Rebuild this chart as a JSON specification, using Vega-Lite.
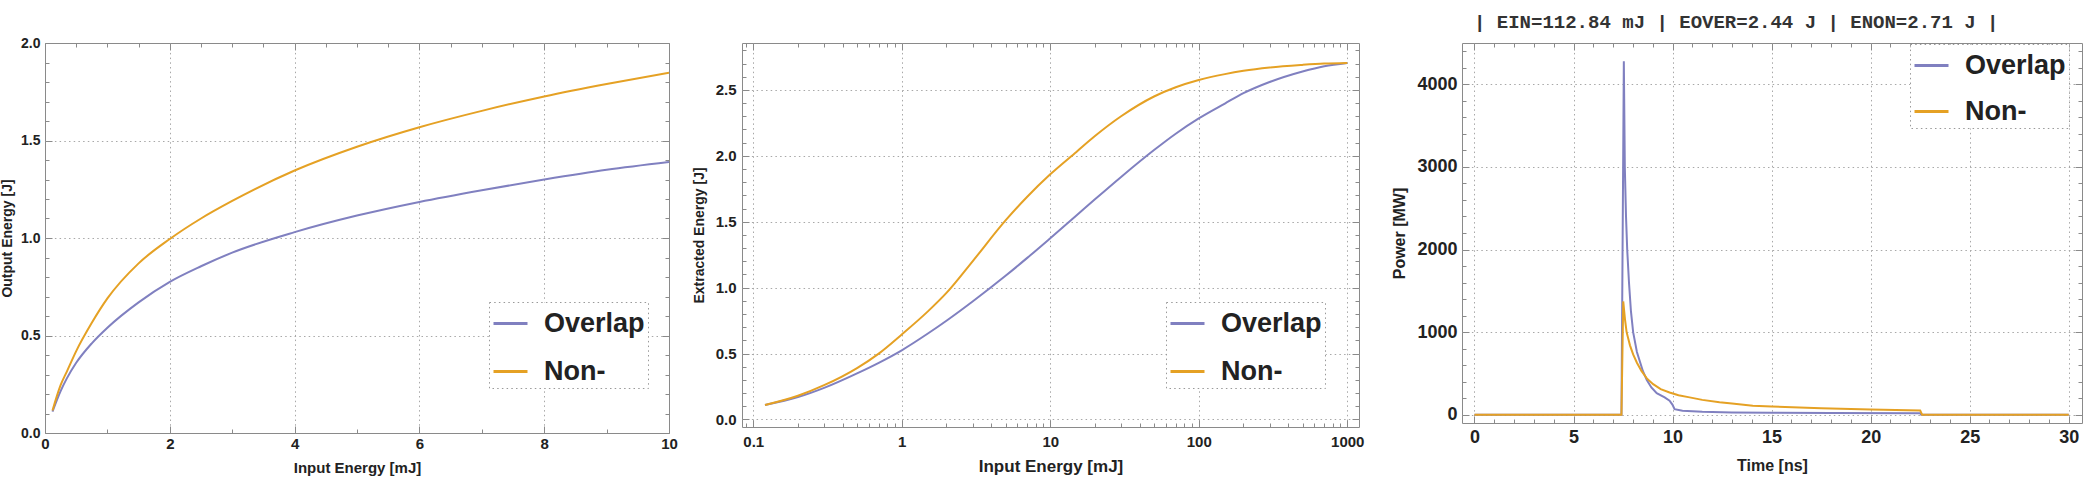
{
  "$schema": "https://vega.github.io/schema/vega-lite/v6.json",
  "padding": {"left": 0, "top": 12, "right": 0, "bottom": 0},
  "background": "white",
  "spacing": 26,
  "resolve": {"scale": {"color": "independent"}, "legend": {"color": "independent"}},
  "config": {
    "view": {"stroke": "#8a8a8a", "strokeWidth": 1},
    "legend": {"strokeDash": [1.5, 3.2], "strokeWidth": 1}
  },
  "hconcat": [
    {
      "bounds": "flush",
      "spacing": 73,
      "resolve": {"scale": {"color": "independent"}, "legend": {"color": "independent"}},
      "hconcat": [
        {
          "width": 624,
          "height": 390,
          "data": {"values": [
            {"e": 0.12, "s": "Overlap", "o": 0.11}, {"e": 0.25, "s": "Overlap", "o": 0.215}, {"e": 0.35, "s": "Overlap", "o": 0.28},
            {"e": 0.5, "s": "Overlap", "o": 0.36}, {"e": 0.75, "s": "Overlap", "o": 0.46}, {"e": 1, "s": "Overlap", "o": 0.54},
            {"e": 1.5, "s": "Overlap", "o": 0.67}, {"e": 2, "s": "Overlap", "o": 0.775}, {"e": 2.5, "s": "Overlap", "o": 0.855},
            {"e": 3, "s": "Overlap", "o": 0.925}, {"e": 4, "s": "Overlap", "o": 1.03}, {"e": 5, "s": "Overlap", "o": 1.115},
            {"e": 6, "s": "Overlap", "o": 1.185}, {"e": 7, "s": "Overlap", "o": 1.245}, {"e": 8, "s": "Overlap", "o": 1.3},
            {"e": 9, "s": "Overlap", "o": 1.35}, {"e": 10, "s": "Overlap", "o": 1.39},
            {"e": 0.12, "s": "Non-", "o": 0.115}, {"e": 0.25, "s": "Non-", "o": 0.245}, {"e": 0.35, "s": "Non-", "o": 0.315},
            {"e": 0.5, "s": "Non-", "o": 0.42}, {"e": 0.75, "s": "Non-", "o": 0.565}, {"e": 1, "s": "Non-", "o": 0.69},
            {"e": 1.5, "s": "Non-", "o": 0.87}, {"e": 2, "s": "Non-", "o": 0.995}, {"e": 2.5, "s": "Non-", "o": 1.1},
            {"e": 3, "s": "Non-", "o": 1.19}, {"e": 4, "s": "Non-", "o": 1.346}, {"e": 5, "s": "Non-", "o": 1.468},
            {"e": 6, "s": "Non-", "o": 1.568}, {"e": 7, "s": "Non-", "o": 1.652}, {"e": 8, "s": "Non-", "o": 1.726},
            {"e": 9, "s": "Non-", "o": 1.79}, {"e": 10, "s": "Non-", "o": 1.848}
          ]},
          "resolve": {"axis": {"x": "independent", "y": "independent"}},
          "layer": [
            {
              "mark": {"type": "line", "strokeWidth": 2, "clip": true, "interpolate": "monotone"},
              "encoding": {
                "x": {"field": "e", "type": "quantitative",
                  "scale": {"domain": [0, 10], "nice": false, "zero": false},
                  "axis": {"orient": "bottom", "values": [0,0.5,1,1.5,2,2.5,3,3.5,4,4.5,5,5.5,6,6.5,7,7.5,8,8.5,9,9.5,10],
                    "domain": false, "grid": true, "gridColor": "#a8a8a8", "gridDash": [1.5, 3.2],
                    "gridOpacity": {"condition": {"test": "datum.value % 2 == 0 && datum.value > 0 && datum.value < 10", "value": 1}, "value": 0},
                    "tickColor": "#8a8a8a",
                    "tickSize": {"condition": {"test": "datum.value % 2 == 0", "value": -7}, "value": -4},
                    "labelExpr": "datum.value % 2 == 0 ? datum.label : ''", "format": "d",
                    "labelFlush": false, "labelOverlap": false, "labelBound": false, "labelPadding": 10,
                    "labelFont": "Liberation Sans Narrow, Liberation Sans, sans-serif", "labelFontSize": 15, "labelFontWeight": "bold", "labelColor": "#222",
                    "title": "Input Energy [mJ]", "titleFont": "Liberation Sans Narrow, Liberation Sans, sans-serif", "titleFontSize": 15,
                    "titleFontWeight": "bold", "titleColor": "#222", "titlePadding": 6}},
                "y": {"field": "o", "type": "quantitative",
                  "scale": {"domain": [0, 2], "nice": false},
                  "axis": {"orient": "left", "values": [0,0.1,0.2,0.3,0.4,0.5,0.6,0.7,0.8,0.9,1,1.1,1.2,1.3,1.4,1.5,1.6,1.7,1.8,1.9,2],
                    "domain": false, "grid": true, "gridColor": "#a8a8a8", "gridDash": [1.5, 3.2],
                    "gridOpacity": {"condition": {"test": "abs(datum.value*2 - round(datum.value*2)) < 1e-6 && datum.value > 0.01 && datum.value < 1.99", "value": 1}, "value": 0},
                    "tickColor": "#8a8a8a",
                    "tickSize": {"condition": {"test": "abs(datum.value*2 - round(datum.value*2)) < 1e-6", "value": -7}, "value": -4},
                    "labelExpr": "abs(datum.value*2 - round(datum.value*2)) < 1e-6 ? datum.label : ''", "format": ".1f",
                    "labelFlush": false, "labelOverlap": false, "labelBound": false, "labelPadding": 12,
                    "labelFont": "Liberation Sans Narrow, Liberation Sans, sans-serif", "labelFontSize": 14, "labelFontWeight": "bold", "labelColor": "#222",
                    "title": "Output Energy [J]", "titleFont": "Liberation Sans Narrow, Liberation Sans, sans-serif", "titleFontSize": 14,
                    "titleFontWeight": "bold", "titleColor": "#222", "titlePadding": 6}},
                "color": {"field": "s", "type": "nominal",
                  "scale": {"domain": ["Overlap", "Non-"], "range": ["#8080c0", "#e5a124"]},
                  "legend": {"orient": "none", "legendX": 444, "legendY": 259, "title": null,
                    "symbolType": "stroke", "symbolSize": 1156, "symbolStrokeWidth": 3,
                    "labelFont": "Liberation Sans, sans-serif", "labelFontSize": 27, "labelFontWeight": "bold", "labelColor": "#222",
                    "labelOffset": 15, "rowPadding": 16, "padding": 3, "fillColor": "white", "strokeColor": "#999"}}
              }
            },
            {
              "mark": {"type": "line", "opacity": 0},
              "encoding": {
                "x": {"field": "e", "type": "quantitative",
                  "axis": {"orient": "top", "values": [0,0.5,1,1.5,2,2.5,3,3.5,4,4.5,5,5.5,6,6.5,7,7.5,8,8.5,9,9.5,10],
                    "domain": false, "grid": false, "labels": false, "title": null, "tickColor": "#8a8a8a",
                    "tickSize": {"condition": {"test": "datum.value % 2 == 0", "value": -7}, "value": -4}}},
                "y": {"field": "o", "type": "quantitative",
                  "axis": {"orient": "right", "values": [0,0.1,0.2,0.3,0.4,0.5,0.6,0.7,0.8,0.9,1,1.1,1.2,1.3,1.4,1.5,1.6,1.7,1.8,1.9,2],
                    "domain": false, "grid": false, "labels": false, "title": null, "tickColor": "#8a8a8a",
                    "tickSize": {"condition": {"test": "abs(datum.value*2 - round(datum.value*2)) < 1e-6", "value": -7}, "value": -4}}}
              }
            }
          ]
        },
        {
          "width": 617,
          "height": 384,
          "data": {"values": [
            {"e": 0.12, "s": "Overlap", "o": 0.11}, {"e": 0.2, "s": "Overlap", "o": 0.17}, {"e": 0.3, "s": "Overlap", "o": 0.24},
            {"e": 0.5, "s": "Overlap", "o": 0.35}, {"e": 0.7, "s": "Overlap", "o": 0.43}, {"e": 1, "s": "Overlap", "o": 0.525},
            {"e": 1.5, "s": "Overlap", "o": 0.652}, {"e": 2, "s": "Overlap", "o": 0.749}, {"e": 3, "s": "Overlap", "o": 0.895},
            {"e": 5, "s": "Overlap", "o": 1.09}, {"e": 7, "s": "Overlap", "o": 1.226}, {"e": 10, "s": "Overlap", "o": 1.375},
            {"e": 15, "s": "Overlap", "o": 1.547}, {"e": 20, "s": "Overlap", "o": 1.67}, {"e": 30, "s": "Overlap", "o": 1.84},
            {"e": 50, "s": "Overlap", "o": 2.044}, {"e": 70, "s": "Overlap", "o": 2.168}, {"e": 100, "s": "Overlap", "o": 2.284},
            {"e": 150, "s": "Overlap", "o": 2.397}, {"e": 200, "s": "Overlap", "o": 2.475}, {"e": 300, "s": "Overlap", "o": 2.56},
            {"e": 500, "s": "Overlap", "o": 2.64}, {"e": 700, "s": "Overlap", "o": 2.68}, {"e": 1000, "s": "Overlap", "o": 2.705},
            {"e": 0.12, "s": "Non-", "o": 0.11}, {"e": 0.2, "s": "Non-", "o": 0.18}, {"e": 0.3, "s": "Non-", "o": 0.26},
            {"e": 0.5, "s": "Non-", "o": 0.39}, {"e": 0.7, "s": "Non-", "o": 0.5}, {"e": 1, "s": "Non-", "o": 0.645},
            {"e": 1.5, "s": "Non-", "o": 0.82}, {"e": 2, "s": "Non-", "o": 0.96}, {"e": 3, "s": "Non-", "o": 1.2},
            {"e": 5, "s": "Non-", "o": 1.51}, {"e": 7, "s": "Non-", "o": 1.69}, {"e": 10, "s": "Non-", "o": 1.86},
            {"e": 15, "s": "Non-", "o": 2.03}, {"e": 20, "s": "Non-", "o": 2.15}, {"e": 30, "s": "Non-", "o": 2.3},
            {"e": 50, "s": "Non-", "o": 2.45}, {"e": 70, "s": "Non-", "o": 2.52}, {"e": 100, "s": "Non-", "o": 2.575},
            {"e": 150, "s": "Non-", "o": 2.62}, {"e": 200, "s": "Non-", "o": 2.645}, {"e": 300, "s": "Non-", "o": 2.67},
            {"e": 500, "s": "Non-", "o": 2.69}, {"e": 700, "s": "Non-", "o": 2.7}, {"e": 1000, "s": "Non-", "o": 2.705}
          ]},
          "resolve": {"axis": {"x": "independent", "y": "independent"}},
          "layer": [
            {
              "mark": {"type": "line", "strokeWidth": 2, "clip": true, "interpolate": "monotone"},
              "encoding": {
                "x": {"field": "e", "type": "quantitative",
                  "scale": {"type": "log", "domain": [0.084, 1200], "nice": false},
                  "axis": {"orient": "bottom", "values": [0.09,0.1,0.2,0.3,0.4,0.5,0.6,0.7,0.8,0.9,1,2,3,4,5,6,7,8,9,10,20,30,40,50,60,70,80,90,100,200,300,400,500,600,700,800,900,1000],
                    "domain": false, "grid": true, "gridColor": "#a8a8a8", "gridDash": [1.5, 3.2],
                    "gridOpacity": {"condition": {"test": "abs(log(datum.value)/LN10 - round(log(datum.value)/LN10)) < 1e-6", "value": 1}, "value": 0},
                    "tickColor": "#8a8a8a",
                    "tickSize": {"condition": {"test": "abs(log(datum.value)/LN10 - round(log(datum.value)/LN10)) < 1e-6", "value": -7}, "value": -4},
                    "labelExpr": "abs(log(datum.value)/LN10 - round(log(datum.value)/LN10)) < 1e-6 ? datum.label : ''", "format": "~g",
                    "labelFlush": false, "labelOverlap": false, "labelBound": false, "labelPadding": 14,
                    "labelFont": "Liberation Sans, sans-serif", "labelFontSize": 15, "labelFontWeight": "bold", "labelColor": "#222",
                    "title": "Input Energy [mJ]", "titleFont": "Liberation Sans, sans-serif", "titleFontSize": 17,
                    "titleFontWeight": "bold", "titleColor": "#222", "titlePadding": 6}},
                "y": {"field": "o", "type": "quantitative",
                  "scale": {"domain": [-0.057, 2.856], "nice": false, "zero": false},
                  "axis": {"orient": "left", "values": [0,0.1,0.2,0.3,0.4,0.5,0.6,0.7,0.8,0.9,1,1.1,1.2,1.3,1.4,1.5,1.6,1.7,1.8,1.9,2,2.1,2.2,2.3,2.4,2.5,2.6,2.7,2.8],
                    "domain": false, "grid": true, "gridColor": "#a8a8a8", "gridDash": [1.5, 3.2],
                    "gridOpacity": {"condition": {"test": "abs(datum.value*2 - round(datum.value*2)) < 1e-6", "value": 1}, "value": 0},
                    "tickColor": "#8a8a8a",
                    "tickSize": {"condition": {"test": "abs(datum.value*2 - round(datum.value*2)) < 1e-6", "value": -7}, "value": -4},
                    "labelExpr": "abs(datum.value*2 - round(datum.value*2)) < 1e-6 ? datum.label : ''", "format": ".1f",
                    "labelFlush": false, "labelOverlap": false, "labelBound": false, "labelPadding": 13,
                    "labelFont": "Liberation Sans, sans-serif", "labelFontSize": 15, "labelFontWeight": "bold", "labelColor": "#222",
                    "title": "Extracted Energy [J]", "titleFont": "Liberation Sans, sans-serif", "titleFontSize": 14,
                    "titleFontWeight": "bold", "titleColor": "#222", "titlePadding": 9}},
                "color": {"field": "s", "type": "nominal",
                  "scale": {"domain": ["Overlap", "Non-"], "range": ["#8080c0", "#e5a124"]},
                  "legend": {"orient": "none", "legendX": 424, "legendY": 259, "title": null,
                    "symbolType": "stroke", "symbolSize": 1156, "symbolStrokeWidth": 3,
                    "labelFont": "Liberation Sans, sans-serif", "labelFontSize": 27, "labelFontWeight": "bold", "labelColor": "#222",
                    "labelOffset": 15, "rowPadding": 16, "padding": 3, "fillColor": "white", "strokeColor": "#999"}}
              }
            },
            {
              "mark": {"type": "line", "opacity": 0},
              "encoding": {
                "x": {"field": "e", "type": "quantitative",
                  "axis": {"orient": "top", "values": [0.09,0.1,0.2,0.3,0.4,0.5,0.6,0.7,0.8,0.9,1,2,3,4,5,6,7,8,9,10,20,30,40,50,60,70,80,90,100,200,300,400,500,600,700,800,900,1000],
                    "domain": false, "grid": false, "labels": false, "title": null, "tickColor": "#8a8a8a",
                    "tickSize": {"condition": {"test": "abs(log(datum.value)/LN10 - round(log(datum.value)/LN10)) < 1e-6", "value": -7}, "value": -4}}},
                "y": {"field": "o", "type": "quantitative",
                  "axis": {"orient": "right", "values": [0,0.1,0.2,0.3,0.4,0.5,0.6,0.7,0.8,0.9,1,1.1,1.2,1.3,1.4,1.5,1.6,1.7,1.8,1.9,2,2.1,2.2,2.3,2.4,2.5,2.6,2.7,2.8],
                    "domain": false, "grid": false, "labels": false, "title": null, "tickColor": "#8a8a8a",
                    "tickSize": {"condition": {"test": "abs(datum.value*2 - round(datum.value*2)) < 1e-6", "value": -7}, "value": -4}}}
              }
            }
          ]
        }
      ]
    },
    {
      "width": 620,
      "height": 380,
      "title": {"text": "| EIN=112.84 mJ | EOVER=2.44 J | ENON=2.71 J |", "font": "Liberation Mono, monospace", "frame": "group",
        "fontSize": 19, "fontWeight": "bold", "color": "#333", "anchor": "start", "dx": 12, "baseline": "alphabetic", "offset": -5},
      "data": {"values": [
        {"t": 0, "s": "Overlap", "p": 0}, {"t": 7.42, "s": "Overlap", "p": 0}, {"t": 7.54, "s": "Overlap", "p": 4280},
        {"t": 7.59, "s": "Overlap", "p": 3000}, {"t": 7.65, "s": "Overlap", "p": 2400}, {"t": 7.71, "s": "Overlap", "p": 2000},
        {"t": 7.8, "s": "Overlap", "p": 1600}, {"t": 7.9, "s": "Overlap", "p": 1250}, {"t": 8.01, "s": "Overlap", "p": 1000},
        {"t": 8.2, "s": "Overlap", "p": 760}, {"t": 8.5, "s": "Overlap", "p": 530}, {"t": 8.7, "s": "Overlap", "p": 420},
        {"t": 8.93, "s": "Overlap", "p": 330}, {"t": 9.2, "s": "Overlap", "p": 260}, {"t": 9.6, "s": "Overlap", "p": 210},
        {"t": 9.85, "s": "Overlap", "p": 170}, {"t": 10.0, "s": "Overlap", "p": 120}, {"t": 10.1, "s": "Overlap", "p": 68},
        {"t": 10.5, "s": "Overlap", "p": 48}, {"t": 11.5, "s": "Overlap", "p": 36}, {"t": 13, "s": "Overlap", "p": 28},
        {"t": 15, "s": "Overlap", "p": 24}, {"t": 18, "s": "Overlap", "p": 20}, {"t": 22.5, "s": "Overlap", "p": 18},
        {"t": 22.55, "s": "Overlap", "p": 0}, {"t": 30, "s": "Overlap", "p": 0},
        {"t": 0, "s": "Non-", "p": 0}, {"t": 7.42, "s": "Non-", "p": 0}, {"t": 7.51, "s": "Non-", "p": 1372},
        {"t": 7.6, "s": "Non-", "p": 1150}, {"t": 7.68, "s": "Non-", "p": 1000}, {"t": 7.85, "s": "Non-", "p": 840},
        {"t": 8.01, "s": "Non-", "p": 730}, {"t": 8.2, "s": "Non-", "p": 630}, {"t": 8.43, "s": "Non-", "p": 530},
        {"t": 8.7, "s": "Non-", "p": 440}, {"t": 9.02, "s": "Non-", "p": 370}, {"t": 9.4, "s": "Non-", "p": 310},
        {"t": 9.85, "s": "Non-", "p": 270}, {"t": 10.3, "s": "Non-", "p": 235}, {"t": 10.86, "s": "Non-", "p": 210},
        {"t": 11.5, "s": "Non-", "p": 180}, {"t": 12.37, "s": "Non-", "p": 150}, {"t": 13, "s": "Non-", "p": 135},
        {"t": 14.05, "s": "Non-", "p": 110}, {"t": 15, "s": "Non-", "p": 100}, {"t": 17.5, "s": "Non-", "p": 78},
        {"t": 20, "s": "Non-", "p": 62}, {"t": 22.5, "s": "Non-", "p": 52}, {"t": 22.6, "s": "Non-", "p": 0},
        {"t": 30, "s": "Non-", "p": 0}
      ]},
      "resolve": {"axis": {"x": "independent", "y": "independent"}},
      "layer": [
        {
          "mark": {"type": "line", "strokeWidth": 2, "clip": true},
          "encoding": {
            "x": {"field": "t", "type": "quantitative",
              "scale": {"domain": [-0.63, 30.67], "nice": false, "zero": false},
              "axis": {"orient": "bottom", "values": [0,1,2,3,4,5,6,7,8,9,10,11,12,13,14,15,16,17,18,19,20,21,22,23,24,25,26,27,28,29,30],
                "domain": false, "grid": true, "gridColor": "#a8a8a8", "gridDash": [1.5, 3.2],
                "gridOpacity": {"condition": {"test": "datum.value % 5 == 0", "value": 1}, "value": 0},
                "tickColor": "#8a8a8a",
                "tickSize": {"condition": {"test": "datum.value % 5 == 0", "value": -7}, "value": -4},
                "labelExpr": "datum.value % 5 == 0 ? datum.label : ''", "format": "d",
                "labelFlush": false, "labelOverlap": false, "labelBound": false, "labelPadding": 12,
                "labelFont": "Liberation Sans, sans-serif", "labelFontSize": 18, "labelFontWeight": "bold", "labelColor": "#222",
                "title": "Time [ns]", "titleFont": "Liberation Sans, sans-serif", "titleFontSize": 16,
                "titleFontWeight": "bold", "titleColor": "#222", "titlePadding": 8}},
            "y": {"field": "p", "type": "quantitative",
              "scale": {"domain": [-100, 4500], "nice": false, "zero": false},
              "axis": {"orient": "left", "values": [0,200,400,600,800,1000,1200,1400,1600,1800,2000,2200,2400,2600,2800,3000,3200,3400,3600,3800,4000,4200,4400],
                "domain": false, "grid": true, "gridColor": "#a8a8a8", "gridDash": [1.5, 3.2],
                "gridOpacity": {"condition": {"test": "datum.value % 1000 == 0", "value": 1}, "value": 0},
                "tickColor": "#8a8a8a",
                "tickSize": {"condition": {"test": "datum.value % 1000 == 0", "value": -7}, "value": -4},
                "labelExpr": "datum.value % 1000 == 0 ? datum.label : ''", "format": "d",
                "labelFlush": false, "labelOverlap": false, "labelBound": false, "labelPadding": 12,
                "labelFont": "Liberation Sans, sans-serif", "labelFontSize": 18, "labelFontWeight": "bold", "labelColor": "#222",
                "title": "Power [MW]", "titleFont": "Liberation Sans, sans-serif", "titleFontSize": 16,
                "titleFontWeight": "bold", "titleColor": "#222", "titlePadding": 9}},
            "color": {"field": "s", "type": "nominal",
              "scale": {"domain": ["Overlap", "Non-"], "range": ["#8080c0", "#e5a124"]},
              "legend": {"orient": "none", "legendX": 448, "legendY": 1, "title": null,
                "symbolType": "stroke", "symbolSize": 1156, "symbolStrokeWidth": 3,
                "labelFont": "Liberation Sans, sans-serif", "labelFontSize": 27, "labelFontWeight": "bold", "labelColor": "#222",
                "labelOffset": 15, "rowPadding": 14, "padding": 3, "fillColor": "white", "strokeColor": "#999"}}
          }
        },
        {
          "mark": {"type": "line", "opacity": 0},
          "encoding": {
            "x": {"field": "t", "type": "quantitative",
              "axis": {"orient": "top", "values": [0,1,2,3,4,5,6,7,8,9,10,11,12,13,14,15,16,17,18,19,20,21,22,23,24,25,26,27,28,29,30],
                "domain": false, "grid": false, "labels": false, "title": null, "tickColor": "#8a8a8a",
                "tickSize": {"condition": {"test": "datum.value % 5 == 0", "value": -7}, "value": -4}}},
            "y": {"field": "p", "type": "quantitative",
              "axis": {"orient": "right", "values": [0,200,400,600,800,1000,1200,1400,1600,1800,2000,2200,2400,2600,2800,3000,3200,3400,3600,3800,4000,4200,4400],
                "domain": false, "grid": false, "labels": false, "title": null, "tickColor": "#8a8a8a",
                "tickSize": {"condition": {"test": "datum.value % 1000 == 0", "value": -7}, "value": -4}}}
          }
        }
      ]
    }
  ]
}
